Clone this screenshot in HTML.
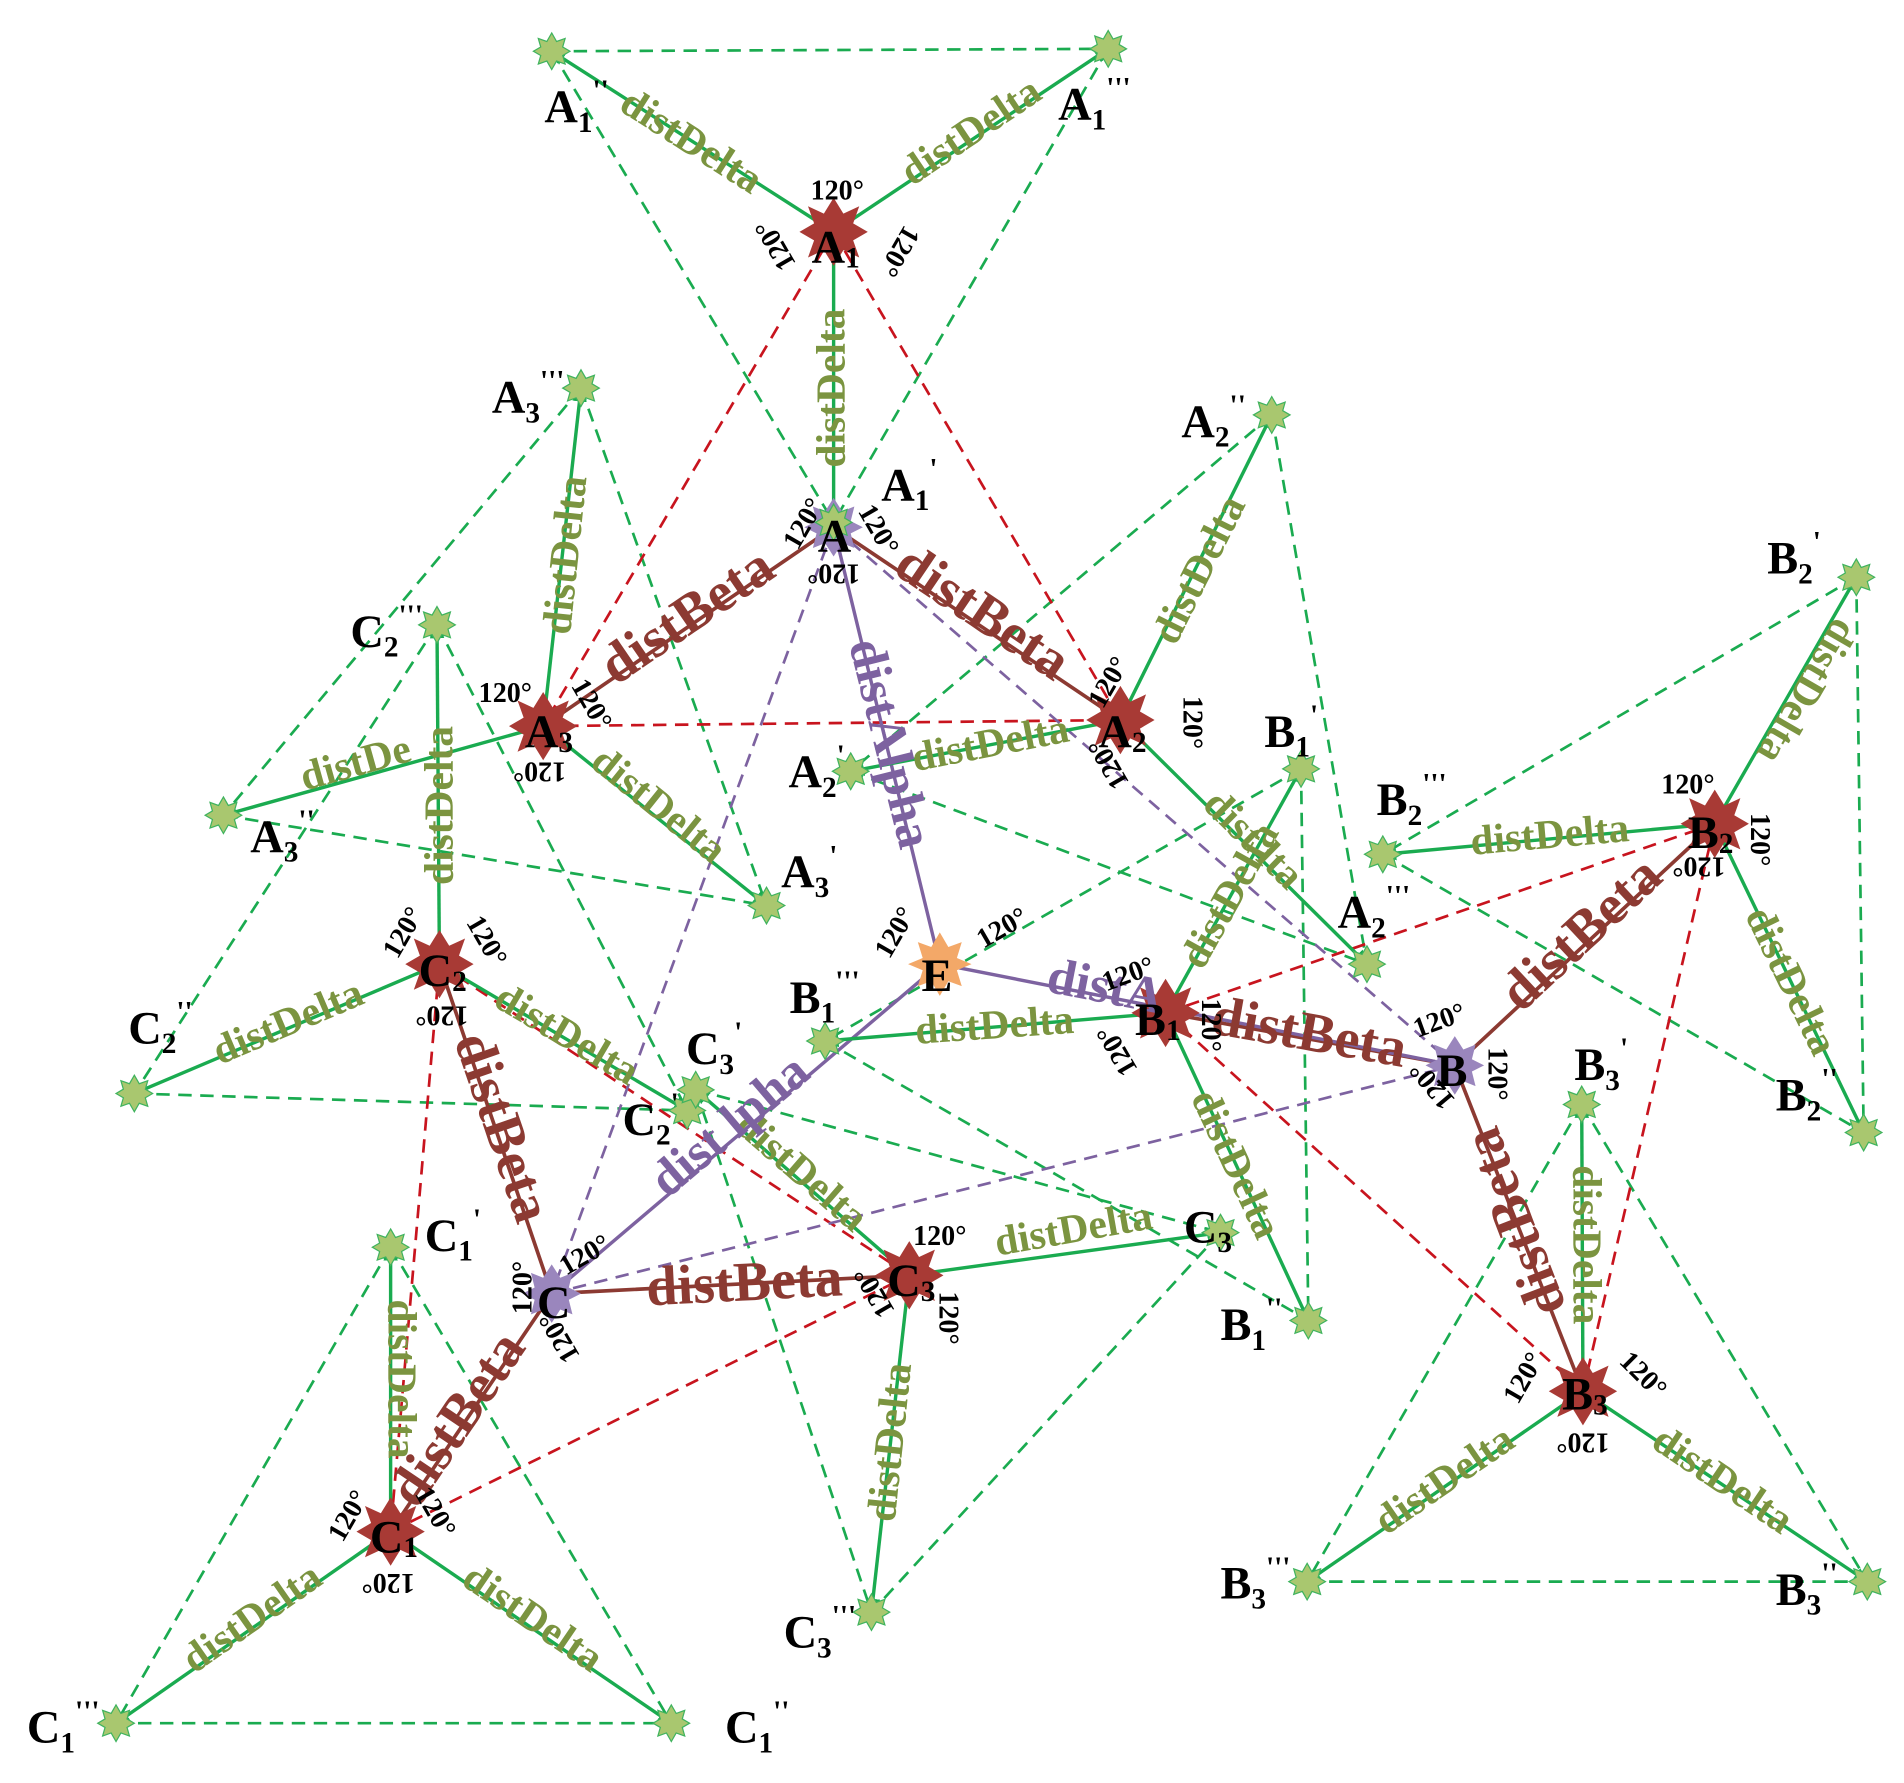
<!DOCTYPE html>
<html><head><meta charset="utf-8"><style>
html,body{margin:0;padding:0;background:#fff;}
svg{display:block;}
.n{font-family:"Liberation Serif",serif;font-weight:bold;font-size:38px;fill:#000;}
.sb{font-size:24px;}
.d{font-family:"Liberation Serif",serif;font-weight:bold;font-size:34px;fill:#7b9440;text-anchor:middle;dominant-baseline:middle;}
.b{font-family:"Liberation Serif",serif;font-weight:bold;font-size:46px;fill:#8c3a32;text-anchor:middle;dominant-baseline:middle;}
.a{font-family:"Liberation Serif",serif;font-weight:bold;font-size:42px;fill:#7d62a0;text-anchor:middle;dominant-baseline:middle;}
.g{font-family:"Liberation Serif",serif;font-weight:bold;font-size:23px;fill:#000;text-anchor:middle;dominant-baseline:middle;}
.gd{stroke:#1aab50;stroke-width:2.2;stroke-dasharray:11,7;fill:none;}
.rd{stroke:#c8141e;stroke-width:2.2;stroke-dasharray:11,7;fill:none;}
.pd{stroke:#7d62a0;stroke-width:2.2;stroke-dasharray:11,7;fill:none;}
.gs{stroke:#1aab50;stroke-width:2.8;fill:none;}
.bs{stroke:#8c3a32;stroke-width:3;fill:none;}
.ps{stroke:#7d62a0;stroke-width:2.8;fill:none;}
</style></head><body>
<svg width="1904" height="1783" viewBox="0 0 1560 1461" xmlns="http://www.w3.org/2000/svg">
<defs>
<marker id="mg" markerWidth="12" markerHeight="12" refX="11" refY="6" orient="auto" markerUnits="userSpaceOnUse"><path d="M0,0 L12,6 L0,12 z" fill="#1aab50"/></marker>
<marker id="mp" markerWidth="14" markerHeight="14" refX="13" refY="7" orient="auto" markerUnits="userSpaceOnUse"><path d="M0,0 L14,7 L0,14 z" fill="#7d62a0"/></marker>
<polygon id="rs" points="0,-28 8,-15 21,-21 16,-7 28,0 16,7 21,21 8,15 0,28 -8,15 -21,21 -16,7 -28,0 -16,-7 -21,-21 -8,-15" fill="#a83a35"/>
<polygon id="gs" points="0,-15 4,-8 11,-10.5 9,-3.5 15,0 9,3.5 11,10.5 4,8 0,15 -4,8 -11,10.5 -9,3.5 -15,0 -9,-3.5 -11,-10.5 -4,-8" fill="#a9c76f" stroke="#3fb35e" stroke-width="1"/>
<polygon id="ps" points="0,-24 7,-13 17,-17 14,-5 24,0 14,5 17,17 7,13 0,24 -7,13 -17,17 -14,5 -24,0 -14,-5 -17,-17 -7,-13" fill="#9a86bd"/>
<polygon id="os" points="0,-26 7,-14 18,-18 14,-5 26,0 14,5 18,18 7,14 0,26 -7,14 -18,18 -14,5 -26,0 -14,-5 -18,-18 -7,-14" fill="#f3a868"/>
</defs>

<g class="gd">
<path d="M452,42 L908,40 M452,42 L683,428 M908,40 L683,428"/>
<path d="M1042,340 L697,632 M1042,340 L1120,790 M697,632 L1120,790"/>
<path d="M476,318 L183,668 M476,318 L628,742 M183,668 L628,742"/>
<path d="M1066,630 L676,853 M1066,630 L1072,1082 M676,853 L1072,1082"/>
<path d="M1521,473 L1133,700 M1521,473 L1527,928 M1133,700 L1527,928"/>
<path d="M1296,905 L1071,1296 M1296,905 L1530,1296 M1071,1296 L1530,1296"/>
<path d="M358,512 L110,896 M358,512 L563,910 M110,896 L563,910"/>
<path d="M570,893 L714,1321 M570,893 L1000,1010 M1000,1010 L714,1321"/>
<path d="M320,1022 L95,1412 M320,1022 L550,1412 M95,1412 L550,1412"/>
</g>
<g class="rd">
<path d="M683,190 L445,595 M683,190 L918,590 M445,595 L918,590"/>
<path d="M955,830 L1405,675 M1405,675 L1297,1140 M955,830 L1297,1140"/>
<path d="M360,790 L320,1255 M320,1255 L745,1045 M360,790 L745,1045"/>
</g>
<g class="pd">
<path d="M683,432 L1192,873 M683,432 L452,1060 M452,1060 L1192,873"/>
</g>
<g class="bs">
<path d="M683,432 L445,595 M683,432 L918,590"/>
<path d="M1192,873 L955,830 M1192,873 L1405,675 M1192,873 L1297,1140"/>
<path d="M452,1060 L360,790 M452,1060 L745,1045 M452,1060 L320,1255"/>
</g>
<g class="ps">
<path d="M770,790 L683,432 M770,790 L1192,873 M770,790 L452,1060" marker-end="url(#mp)"/>
</g>
<g class="gs" marker-end="url(#mg)">
<path d="M683,190 L452,42"/><path d="M683,190 L908,40"/><path d="M683,190 L683,428"/>
<path d="M918,590 L1042,340"/><path d="M918,590 L697,632"/><path d="M918,590 L1120,790"/>
<path d="M445,595 L476,318"/><path d="M445,595 L183,668"/><path d="M445,595 L628,742"/>
<path d="M955,830 L1066,630"/><path d="M955,830 L676,853"/><path d="M955,830 L1072,1082"/>
<path d="M1405,675 L1521,473"/><path d="M1405,675 L1133,700"/><path d="M1405,675 L1527,928"/>
<path d="M1297,1140 L1296,905"/><path d="M1297,1140 L1071,1296"/><path d="M1297,1140 L1530,1296"/>
<path d="M360,790 L358,512"/><path d="M360,790 L110,896"/><path d="M360,790 L563,910"/>
<path d="M745,1045 L570,893"/><path d="M745,1045 L1000,1010"/><path d="M745,1045 L714,1321"/>
<path d="M320,1255 L320,1022"/><path d="M320,1255 L95,1412"/><path d="M320,1255 L550,1412"/>
</g>

<use href="#rs" x="683" y="190"/><use href="#rs" x="918" y="590"/><use href="#rs" x="445" y="595"/>
<use href="#rs" x="955" y="830"/><use href="#rs" x="1405" y="675"/><use href="#rs" x="1297" y="1140"/>
<use href="#rs" x="360" y="790"/><use href="#rs" x="745" y="1045"/><use href="#rs" x="320" y="1255"/>
<use href="#ps" x="683" y="432"/><use href="#ps" x="1192" y="873"/><use href="#ps" x="452" y="1060"/>
<use href="#os" x="770" y="790"/>
<g>
<use href="#gs" x="452" y="42"/><use href="#gs" x="908" y="40"/><use href="#gs" x="683" y="428"/>
<use href="#gs" x="1042" y="340"/><use href="#gs" x="697" y="632"/><use href="#gs" x="1120" y="790"/>
<use href="#gs" x="476" y="318"/><use href="#gs" x="183" y="668"/><use href="#gs" x="628" y="742"/>
<use href="#gs" x="1066" y="630"/><use href="#gs" x="676" y="853"/><use href="#gs" x="1072" y="1082"/>
<use href="#gs" x="1521" y="473"/><use href="#gs" x="1133" y="700"/><use href="#gs" x="1527" y="928"/>
<use href="#gs" x="1296" y="905"/><use href="#gs" x="1071" y="1296"/><use href="#gs" x="1530" y="1296"/>
<use href="#gs" x="358" y="512"/><use href="#gs" x="110" y="896"/><use href="#gs" x="563" y="910"/>
<use href="#gs" x="570" y="893"/><use href="#gs" x="1000" y="1010"/><use href="#gs" x="714" y="1321"/>
<use href="#gs" x="320" y="1022"/><use href="#gs" x="95" y="1412"/><use href="#gs" x="550" y="1412"/>
</g>

<text class="d" transform="translate(565,118) rotate(32.6)">distDelta</text>
<text class="d" transform="translate(797,110) rotate(-34)">distDelta</text>
<text class="d" transform="translate(684,318) rotate(-90)">distDelta</text>
<text class="d" transform="translate(466,455) rotate(-84)">distDelta</text>
<text class="d" transform="translate(292,628) rotate(-15.6)">distDe</text>
<text class="d" transform="translate(538,662) rotate(38.8)">distDelta</text>
<text class="d" transform="translate(985,468) rotate(-63.6)">distDelta</text>
<text class="d" transform="translate(812,612) rotate(-11)">distDelta</text>
<text class="d" transform="translate(1025,690) rotate(44.7)">dist lta</text>
<text class="d" transform="translate(1010,735) rotate(-61)">distDelta</text>
<text class="d" transform="translate(815,843) rotate(-4)">distDelta</text>
<text class="d" transform="translate(1010,955) rotate(65)">distDelta</text>
<text class="d" transform="translate(1478,565) rotate(120)">distDelta</text>
<text class="d" transform="translate(1270,687) rotate(-5)">distDelta</text>
<text class="d" transform="translate(1465,805) rotate(64)">distDelta</text>
<text class="d" transform="translate(1297,1020) rotate(90)">distDelta</text>
<text class="d" transform="translate(1185,1215) rotate(-34.6)">distDelta</text>
<text class="d" transform="translate(1410,1215) rotate(34)">distDelta</text>
<text class="d" transform="translate(363,660) rotate(-90)">distDelta</text>
<text class="d" transform="translate(237,840) rotate(-23)">distDelta</text>
<text class="d" transform="translate(463,850) rotate(30.6)">distDelta</text>
<text class="d" transform="translate(655,962) rotate(41)">distDelta</text>
<text class="d" transform="translate(880,1010) rotate(-10)">distDelta</text>
<text class="d" transform="translate(732,1182) rotate(-84)">distDelta</text>
<text class="d" transform="translate(326,1130) rotate(90)">distDelta</text>
<text class="d" transform="translate(208,1328) rotate(-35)">distDelta</text>
<text class="d" transform="translate(435,1328) rotate(34.3)">distDelta</text>

<text class="b" transform="translate(565,508) rotate(-34.4)">distBeta</text>
<text class="b" transform="translate(803,505) rotate(34)">distBeta</text>
<text class="b" transform="translate(1072,850) rotate(10)">distBeta</text>
<text class="b" transform="translate(1298,768) rotate(-43)">distBeta</text>
<text class="b" transform="translate(1245,1000) rotate(-111)">distBeta</text>
<text class="b" transform="translate(408,925) rotate(71)">distBeta</text>
<text class="b" transform="translate(610,1055) rotate(-3)">distBeta</text>
<text class="b" transform="translate(378,1165) rotate(-56)">distBeta</text>

<text class="a" transform="translate(726,610) rotate(76)">distAlpha</text>
<text class="a" transform="translate(905,812) rotate(11)">distA</text>
<text class="a" transform="translate(600,925) rotate(-40.3)">dist lpha</text>

<g class="g">
<text x="686" y="158">120°</text>
<text transform="translate(637,200) rotate(-120)">120°</text>
<text transform="translate(735,205) rotate(120)">120°</text>
<text transform="translate(660,430) rotate(-60)">120°</text>
<text transform="translate(718,435) rotate(60)">120°</text>
<text transform="translate(683,468) rotate(180)">120°</text>
<text x="414" y="570">120°</text>
<text transform="translate(483,578) rotate(60)">120°</text>
<text transform="translate(442,630) rotate(180)">120°</text>
<text transform="translate(910,560) rotate(-60)">120°</text>
<text transform="translate(975,592) rotate(90)">120°</text>
<text transform="translate(910,625) rotate(-120)">120°</text>
<text transform="translate(735,765) rotate(-60)">120°</text>
<text transform="translate(822,762) rotate(-30)">120°</text>
<text transform="translate(925,800) rotate(-20)">120°</text>
<text transform="translate(990,840) rotate(90)">120°</text>
<text transform="translate(917,860) rotate(-120)">120°</text>
<text transform="translate(1180,838) rotate(-20)">120°</text>
<text transform="translate(1225,880) rotate(90)">120°</text>
<text transform="translate(1175,888) rotate(-130)">120°</text>
<text x="1383" y="645">120°</text>
<text transform="translate(1440,688) rotate(90)">120°</text>
<text transform="translate(1392,708) rotate(180)">120°</text>
<text transform="translate(1250,1130) rotate(-60)">120°</text>
<text transform="translate(1345,1128) rotate(45)">120°</text>
<text transform="translate(1297,1180) rotate(180)">120°</text>
<text transform="translate(332,765) rotate(-60)">120°</text>
<text transform="translate(397,772) rotate(60)">120°</text>
<text transform="translate(362,830) rotate(180)">120°</text>
<text transform="translate(480,1030) rotate(-30)">120°</text>
<text transform="translate(430,1055) rotate(-90)">120°</text>
<text transform="translate(460,1095) rotate(-120)">120°</text>
<text x="770" y="1015">120°</text>
<text transform="translate(718,1058) rotate(-120)">120°</text>
<text transform="translate(775,1080) rotate(90)">120°</text>
<text transform="translate(287,1243) rotate(-60)">120°</text>
<text transform="translate(355,1240) rotate(60)">120°</text>
<text transform="translate(318,1295) rotate(180)">120°</text>
</g>

<g class="n">
<text x="446" y="100">A<tspan class="sb" dy="8">1</tspan><tspan class="sb" dy="-26">''</tspan></text>
<text x="867" y="98">A<tspan class="sb" dy="8">1</tspan><tspan class="sb" dy="-26">'''</tspan></text>
<text x="665" y="215">A<tspan class="sb" dy="4">1</tspan></text>
<text x="722" y="410">A<tspan class="sb" dy="8">1</tspan><tspan class="sb" dy="-26">'</tspan></text>
<text x="670" y="452">A</text>
<text x="900" y="612">A<tspan class="sb" dy="4">2</tspan></text>
<text x="968" y="358">A<tspan class="sb" dy="8">2</tspan><tspan class="sb" dy="-26">''</tspan></text>
<text x="646" y="645">A<tspan class="sb" dy="8">2</tspan><tspan class="sb" dy="-26">'</tspan></text>
<text x="1096" y="760">A<tspan class="sb" dy="8">2</tspan><tspan class="sb" dy="-26">'''</tspan></text>
<text x="430" y="612">A<tspan class="sb" dy="4">3</tspan></text>
<text x="403" y="338">A<tspan class="sb" dy="8">3</tspan><tspan class="sb" dy="-26">'''</tspan></text>
<text x="205" y="698">A<tspan class="sb" dy="8">3</tspan><tspan class="sb" dy="-26">''</tspan></text>
<text x="640" y="727">A<tspan class="sb" dy="8">3</tspan><tspan class="sb" dy="-26">'</tspan></text>
<text x="1036" y="612">B<tspan class="sb" dy="8">1</tspan><tspan class="sb" dy="-26">'</tspan></text>
<text x="1000" y="1098">B<tspan class="sb" dy="8">1</tspan><tspan class="sb" dy="-26">''</tspan></text>
<text x="647" y="830">B<tspan class="sb" dy="8">1</tspan><tspan class="sb" dy="-26">'''</tspan></text>
<text x="930" y="848">B<tspan class="sb" dy="4">1</tspan></text>
<text x="1177" y="890">B</text>
<text x="1383" y="695">B<tspan class="sb" dy="4">2</tspan></text>
<text x="1448" y="470">B<tspan class="sb" dy="8">2</tspan><tspan class="sb" dy="-26">'</tspan></text>
<text x="1128" y="668">B<tspan class="sb" dy="8">2</tspan><tspan class="sb" dy="-26">'''</tspan></text>
<text x="1455" y="910">B<tspan class="sb" dy="8">2</tspan><tspan class="sb" dy="-26">''</tspan></text>
<text x="1290" y="885">B<tspan class="sb" dy="8">3</tspan><tspan class="sb" dy="-26">'</tspan></text>
<text x="1280" y="1155">B<tspan class="sb" dy="4">3</tspan></text>
<text x="1000" y="1310">B<tspan class="sb" dy="8">3</tspan><tspan class="sb" dy="-26">'''</tspan></text>
<text x="1455" y="1315">B<tspan class="sb" dy="8">3</tspan><tspan class="sb" dy="-26">''</tspan></text>
<text x="287" y="530">C<tspan class="sb" dy="8">2</tspan><tspan class="sb" dy="-26">'''</tspan></text>
<text x="105" y="855">C<tspan class="sb" dy="8">2</tspan><tspan class="sb" dy="-26">''</tspan></text>
<text x="510" y="930">C<tspan class="sb" dy="8">2</tspan><tspan class="sb" dy="-26">'</tspan></text>
<text x="562" y="872">C<tspan class="sb" dy="8">3</tspan><tspan class="sb" dy="-26">'</tspan></text>
<text x="343" y="808">C<tspan class="sb" dy="4">2</tspan></text>
<text x="440" y="1080">C</text>
<text x="727" y="1062">C<tspan class="sb" dy="4">3</tspan></text>
<text x="970" y="1018">C<tspan class="sb" dy="8">3</tspan></text>
<text x="348" y="1025">C<tspan class="sb" dy="8">1</tspan><tspan class="sb" dy="-26">'</tspan></text>
<text x="303" y="1272">C<tspan class="sb" dy="4">1</tspan></text>
<text x="22" y="1428">C<tspan class="sb" dy="8">1</tspan><tspan class="sb" dy="-26">'''</tspan></text>
<text x="594" y="1428">C<tspan class="sb" dy="8">1</tspan><tspan class="sb" dy="-26">''</tspan></text>
<text x="642" y="1350">C<tspan class="sb" dy="8">3</tspan><tspan class="sb" dy="-26">'''</tspan></text>
<text x="755" y="812">E</text>
</g>
</svg>
</body></html>
